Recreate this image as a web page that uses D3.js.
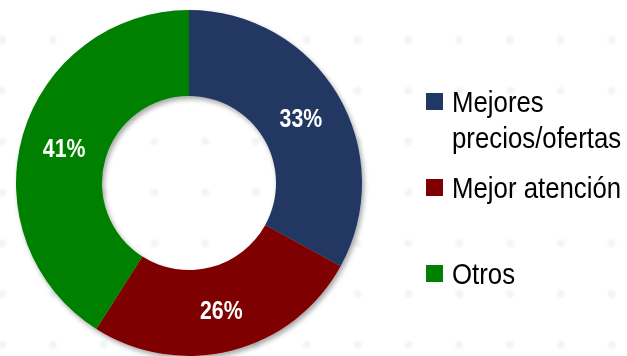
<!DOCTYPE html>
<html>
<head>
<meta charset="utf-8">
<script src="https://cdn.jsdelivr.net/npm/d3@7"></script>
<style>
  html, body { margin: 0; padding: 0; background: #ffffff; }
  svg { display: block; }
</style>
</head>
<body>
<svg id="chart" width="627" height="356"></svg>
<script>
// Motivo de preferencia (porcentaje de respuestas)
const categories = ["Mejores precios/ofertas", "Mejor atención", "Otros"];
const values = [33, 26, 41];
const colors = ["#203864", "#7f0000", "#008000"];
const legendLines = [["Mejores", "precios/ofertas"], ["Mejor atención"], ["Otros"]];
const legendRowY = [93, 179, 265];

const width = 627, height = 356;
const svg = d3.select("#chart");
const fontFamily = "'Liberation Sans', Arial, sans-serif";

// soft shadow used under the ring
const defs = svg.append("defs");
const shadow = defs.append("filter").attr("id", "ringShadow")
  .attr("x", "-10%").attr("y", "-10%").attr("width", "120%").attr("height", "120%");
shadow.append("feDropShadow")
  .attr("dx", 2).attr("dy", 3).attr("stdDeviation", 2.5)
  .attr("flood-color", "#000").attr("flood-opacity", 0.35);
const dotBlur = defs.append("filter").attr("id", "dotBlur");
dotBlur.append("feGaussianBlur").attr("stdDeviation", 1.3);

// faint dotted background pattern
const bg = svg.append("g").attr("filter", "url(#dotBlur)");
const dotXs = d3.range(2, width + 10, 50.8);
const dotYs = d3.range(40, height + 10, 50.8);
dotYs.forEach(y => dotXs.forEach(x => {
  bg.append("circle").attr("cx", x).attr("cy", y).attr("r", 4)
    .attr("fill", "#dde9f1").attr("opacity", 0.45);
}));

// donut
const cx = 189, cy = 183;
const outerR = 173, innerR = 87;
const pie = d3.pie().sort(null).value(d => d)(values);
const arc = d3.arc().innerRadius(innerR).outerRadius(outerR);

const g = svg.append("g").attr("transform", `translate(${cx},${cy})`);
g.append("g").attr("filter", "url(#ringShadow)")
  .selectAll("path").data(pie).join("path")
  .attr("d", arc)
  .attr("fill", (d, i) => colors[i]);

// condensed percentage labels at each slice centroid
g.selectAll("text.pct").data(pie).join("text")
  .attr("class", "pct")
  .attr("transform", d => {
    const [x, y] = arc.centroid(d);
    return `translate(${x},${y + 1}) scale(0.82,1)`;
  })
  .attr("dy", "0.36em")
  .attr("text-anchor", "middle")
  .attr("fill", "#ffffff")
  .attr("font-family", fontFamily)
  .attr("font-weight", "bold")
  .attr("font-size", 26)
  .text(d => d.data + "%");

// legend
const legend = svg.append("g");
categories.forEach((c, i) => {
  const y = legendRowY[i];
  legend.append("rect")
    .attr("x", 426).attr("y", y).attr("width", 17).attr("height", 17)
    .attr("fill", colors[i]);
  const t = legend.append("text")
    .attr("transform", `translate(452,${y + 19}) scale(0.86,1)`)
    .attr("fill", "#000000")
    .attr("font-family", fontFamily)
    .attr("font-size", 30);
  legendLines[i].forEach((line, j) => {
    t.append("tspan").attr("x", 0).attr("dy", j === 0 ? 0 : 36).text(line);
  });
});
</script>
</body>
</html>
